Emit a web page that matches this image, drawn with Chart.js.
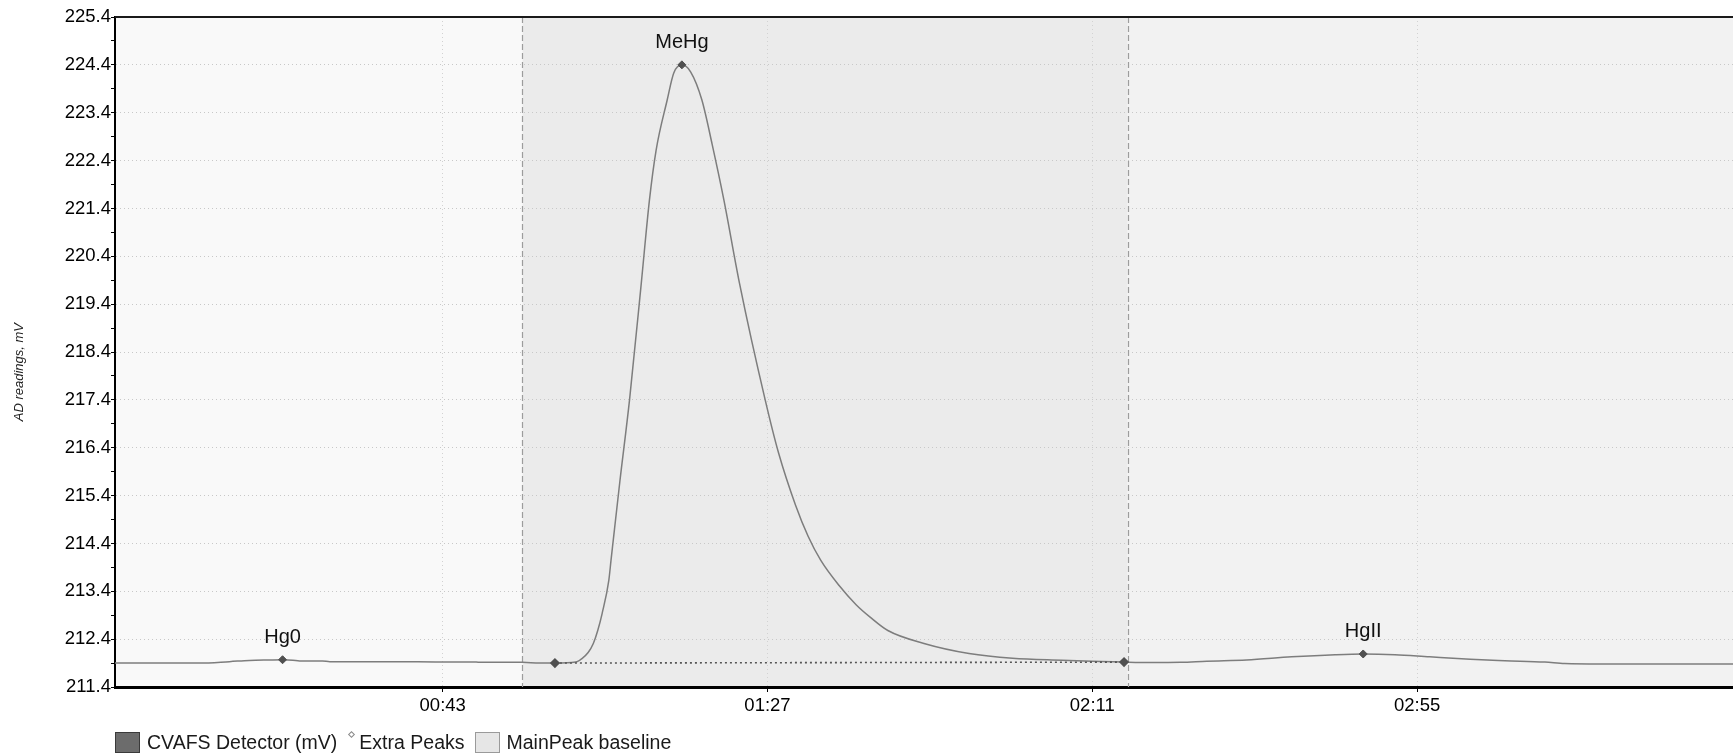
<!DOCTYPE html>
<html>
<head>
<meta charset="utf-8">
<script src="https://cdn.jsdelivr.net/npm/chart.js@4.4.1/dist/chart.umd.min.js"></script>
<style>
  html, body { margin: 0; padding: 0; background: #fff; }
  #wrap { position: relative; width: 1733px; height: 755px; overflow: hidden; }
  #chart { position: absolute; left: 0; top: 0; }
  #legend {
    position: absolute; left: 115px; top: 731px; height: 22px;
    display: flex; align-items: center; white-space: nowrap;
    font-family: "Liberation Sans", Arial, sans-serif; font-size: 19.5px; color: #1a1a1a;
  }
  #legend .item { display: flex; align-items: center; position: relative; }
  #legend .sw-box { width: 25px; height: 21px; box-sizing: border-box; border: 1px solid #3a3a3a; background: #6c6c6c; margin-right: 7px; }
  #legend .sw-light { width: 25px; height: 21px; box-sizing: border-box; border: 1px solid #9a9a9a; background: #e6e6e6; margin-left: 11px; margin-right: 6px; }
  #legend .sw-diamond { width: 5px; height: 5px; box-sizing: border-box; border: 1px solid #8a8a8a; background: #fff; transform: rotate(45deg); margin-left: 12px; margin-right: 5px; position: relative; top: -8px; }
</style>
</head>
<body>
<div id="wrap">
  <canvas id="chart" width="1733" height="755"></canvas>
  <div id="legend"></div>
</div>
<script>
// Detector trace: retention time (s) and signal (mV)
const timeSec = [
  -1.4, 5, 10.1, 14.1, 16.8, 19.5, 21.3, 22.7, 23.6, 26.7, 27.7, 33, 37.2, 42, 47.1, 48.0, 53.8, 56.1,
  58.2, 61.0, 61.9, 62.7, 63.4, 64.0, 64.6, 65.5, 65.8, 67.0, 68.3, 69.9, 71.0, 71.9, 73.4, 74.3, 75.4,
  76.6, 78.1, 79.5, 81.1, 83.2, 86.7, 88.5, 90.8, 92.5, 94.2, 96.7, 99.0, 100.9, 103.3, 108.2, 114.3,
  120.2, 126.9, 131.0, 135.3, 138.8, 143.0, 146.5, 151.9, 158.0, 163.9, 167.7, 172.0, 176.7, 182.2,
  186.9, 192.3, 195.0, 199.8, 210.0, 217.8
];
const mv = [
  211.90, 211.90, 211.90, 211.93, 211.955, 211.965, 211.97, 211.96, 211.945, 211.945, 211.93, 211.93, 211.93, 211.925, 211.925, 211.915, 211.915, 211.90,
  211.90, 211.92, 212.00, 212.12, 212.31, 212.58, 212.94, 213.63, 214.05, 215.70, 217.39, 219.84, 221.57, 222.61, 223.66, 224.23, 224.40,
  224.25, 223.67, 222.74, 221.57, 219.84, 217.39, 216.29, 215.20, 214.55, 214.05, 213.52, 213.12, 212.86, 212.58, 212.31, 212.10,
  212.00, 211.96, 211.94, 211.92, 211.91, 211.915, 211.94, 211.965, 212.03, 212.075, 212.09, 212.075, 212.03, 211.98,
  211.95, 211.92, 211.89, 211.88, 211.88, 211.88
];

// Detected peaks
const peakNames = ['Hg0', 'MeHg', 'HgII'];
const peakTimes = [21.3, 75.4, 167.7];
const peakValues = [211.97, 224.4, 212.09];

// Main peak integration baseline (start, end) and integration window
const baselineTimes = [58.2, 135.3];
const baselineValues = [211.90, 211.92];
const windowBounds = [53.8, 135.8];

// Axes
const xRange = [-1.4, 217.8];
const xTickValues = [43, 87, 131, 175];
const xTickLabels = ['00:43', '01:27', '02:11', '02:55'];
const yRange = [211.4, 225.4];
const yTickValues = [211.4, 212.4, 213.4, 214.4, 215.4, 216.4, 217.4, 218.4, 219.4, 220.4, 221.4, 222.4, 223.4, 224.4, 225.4];
const yTickLabels = ['211.4', '212.4', '213.4', '214.4', '215.4', '216.4', '217.4', '218.4', '219.4', '220.4', '221.4', '222.4', '223.4', '224.4', '225.4'];
const yAxisTitle = 'AD readings, mV';

const FONT = '"Liberation Sans", Arial, sans-serif';
Chart.defaults.font.family = FONT;
Chart.defaults.color = '#000';

const toPoints = (xs, ys) => xs.map((x, i) => ({ x, y: ys[i] }));

// Shaded integration window, boundaries, frame, axis title and peak names
const windowPlugin = {
  id: 'integrationWindow',
  beforeDraw(chart) {
    const { ctx, chartArea: a, scales: { x } } = chart;
    const x0 = x.getPixelForValue(windowBounds[0]);
    const x1 = x.getPixelForValue(windowBounds[1]);
    ctx.save();
    ctx.fillStyle = '#f9f9f9';
    ctx.fillRect(a.left, a.top, x0 - a.left, a.height);
    ctx.fillStyle = '#ebebeb';
    ctx.fillRect(x0, a.top, x1 - x0, a.height);
    ctx.fillStyle = '#f2f2f2';
    ctx.fillRect(x1, a.top, a.right - x1, a.height);
    ctx.restore();
  },
  beforeDatasetsDraw(chart) {
    const { ctx, chartArea: a, scales: { x } } = chart;
    ctx.save();
    ctx.strokeStyle = '#9c9c9c';
    ctx.lineWidth = 1.2;
    ctx.setLineDash([6, 3]);
    windowBounds.forEach(t => {
      const px = Math.round(x.getPixelForValue(t)) + 0.5;
      ctx.beginPath();
      ctx.moveTo(px, a.top);
      ctx.lineTo(px, a.bottom);
      ctx.stroke();
    });
    ctx.restore();
  },
  afterDatasetsDraw(chart) {
    const { ctx, chartArea: a } = chart;
    ctx.save();
    ctx.strokeStyle = '#1a1a1a';
    ctx.lineWidth = 2;
    ctx.beginPath();
    ctx.moveTo(a.left, a.top);
    ctx.lineTo(a.right, a.top);
    ctx.stroke();

    const idx = chart.data.datasets.findIndex(d => d.label === 'Extra Peaks');
    const meta = chart.getDatasetMeta(idx);
    ctx.font = '20px ' + FONT;
    ctx.fillStyle = '#111';
    ctx.textAlign = 'center';
    ctx.textBaseline = 'middle';
    meta.data.forEach((pt, i) => ctx.fillText(peakNames[i], pt.x, pt.y - 22));

    // rotated y-axis caption, sitting a little below the axis midpoint
    ctx.translate(19, a.top + a.height * 0.53);
    ctx.rotate(-Math.PI / 2);
    ctx.font = 'italic 13px ' + FONT;
    ctx.fillStyle = '#222';
    ctx.fillText(yAxisTitle, 0, 0);
    ctx.restore();
  }
};

const chart = new Chart(document.getElementById('chart'), {
  type: 'line',
  data: {
    datasets: [
      {
        label: 'CVAFS Detector (mV)',
        legendKind: 'sw-box',
        data: toPoints(timeSec, mv),
        borderColor: '#7d7d7d',
        borderWidth: 1.5,
        pointRadius: 0,
        cubicInterpolationMode: 'monotone',
        fill: false,
        order: 3
      },
      {
        label: 'Extra Peaks',
        legendKind: 'sw-diamond',
        data: toPoints(peakTimes, peakValues),
        showLine: false,
        pointStyle: 'rectRot',
        pointRadius: 4,
        pointBackgroundColor: '#505050',
        pointBorderColor: '#505050',
        order: 1
      },
      {
        label: 'MainPeak baseline',
        legendKind: 'sw-light',
        data: toPoints(baselineTimes, baselineValues),
        borderColor: '#555',
        borderWidth: 1.6,
        borderDash: [2, 3],
        pointStyle: 'rectRot',
        pointRadius: 4,
        pointBackgroundColor: '#505050',
        pointBorderColor: '#505050',
        fill: false,
        order: 2
      }
    ]
  },
  options: {
    responsive: false,
    animation: false,
    layout: { padding: { top: 17, right: 0, bottom: 25, left: 0 }, autoPadding: false },
    plugins: { legend: { display: false }, tooltip: { enabled: false } },
    scales: {
      x: {
        type: 'linear',
        min: xRange[0],
        max: xRange[1],
        afterBuildTicks: s => { s.ticks = xTickValues.map(v => ({ value: v })); },
        afterFit: s => { s.height = 43; },
        ticks: {
          autoSkip: false,
          maxRotation: 0,
          padding: 3,
          font: { size: 18.5 },
          color: '#000',
          callback: (v, i) => xTickLabels[i]
        },
        grid: { color: '#d2d2d2', lineWidth: 1, tickLength: 5, tickColor: '#000', tickWidth: 1 },
        border: { color: '#000', width: 3, dash: [1, 3] }
      },
      y: {
        type: 'linear',
        min: yRange[0],
        max: yRange[1],
        afterBuildTicks: s => {
          const t = [];
          yTickValues.forEach((v, i) => {
            t.push({ value: v });
            if (i < yTickValues.length - 1) t.push({ value: (v + yTickValues[i + 1]) / 2 });
          });
          s.ticks = t;
        },
        afterFit: s => { s.width = 115; },
        ticks: {
          autoSkip: false,
          padding: 0,
          font: { size: 18.5 },
          color: '#000',
          callback: v => {
            const j = yTickValues.indexOf(v);
            return j >= 0 ? yTickLabels[j] : '';
          }
        },
        grid: {
          color: c => (c.tick && yTickValues.includes(c.tick.value)) ? '#c8c8c8' : 'rgba(0,0,0,0)',
          lineWidth: 1,
          tickLength: 4,
          tickColor: '#000',
          tickWidth: 1
        },
        border: { color: '#000', width: 2, dash: [1, 3] }
      }
    }
  },
  plugins: [windowPlugin]
});

// HTML legend built from the datasets
const legendEl = document.getElementById('legend');
chart.data.datasets.forEach(ds => {
  const item = document.createElement('span');
  item.className = 'item';
  const sw = document.createElement('span');
  sw.className = ds.legendKind;
  const tx = document.createElement('span');
  tx.textContent = ds.label;
  item.append(sw, tx);
  legendEl.append(item);
});
</script>
</body>
</html>
